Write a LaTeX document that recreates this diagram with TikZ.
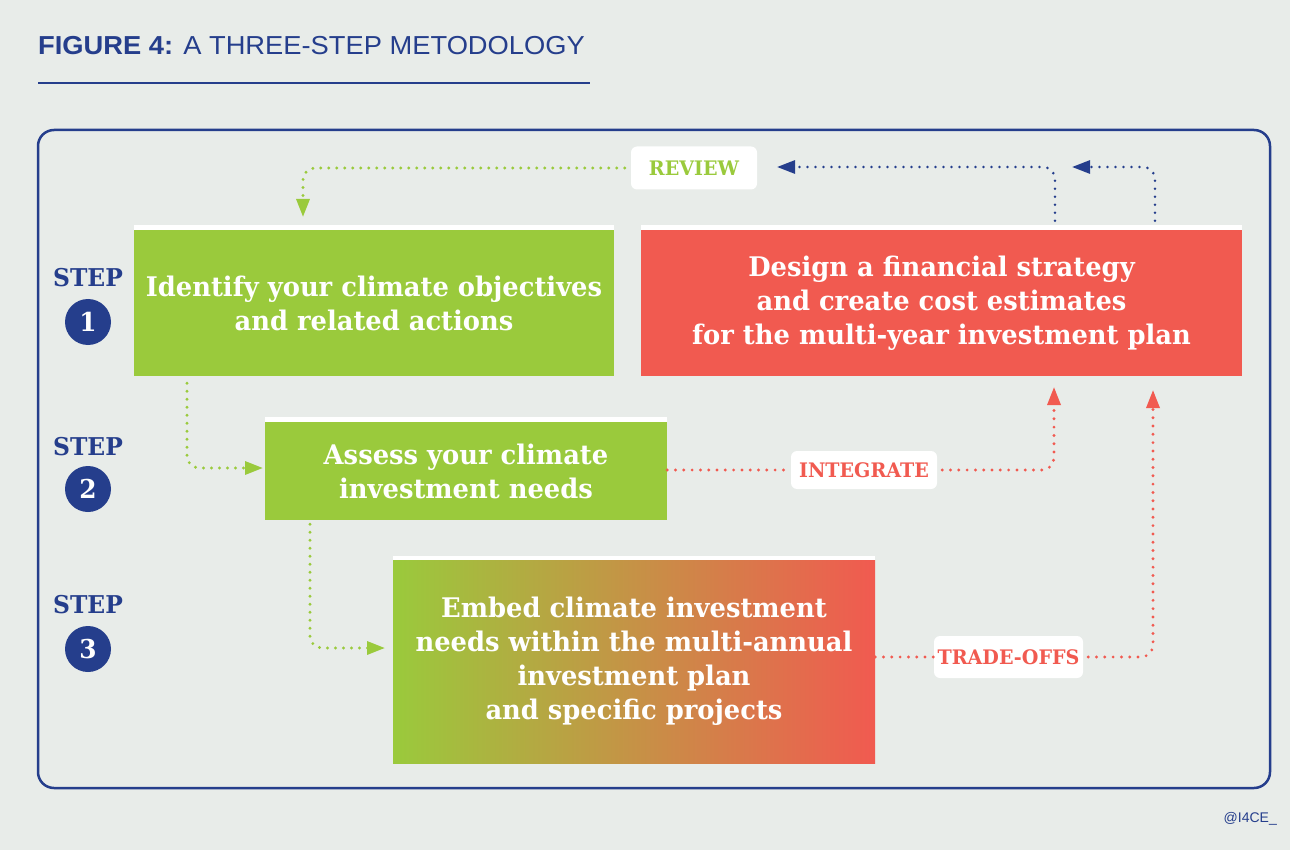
\documentclass[tikz,border=0pt]{standalone}
\usepackage{fontspec}
\setmainfont{Liberation Sans}
\newfontfamily\titlefont{Liberation Sans}[FakeStretch=1.05]
\newfontfamily\slab{DejaVu Serif}[FakeStretch=0.955]
\usetikzlibrary{arrows.meta}
\definecolor{bg}{HTML}{E8ECE9}
\definecolor{navy}{HTML}{253E8C}
\definecolor{lgreen}{HTML}{9ACA3C}
\definecolor{coral}{HTML}{F15A50}
\begin{document}
\begin{tikzpicture}[x=1pt,y=-1pt,
  box/.style={inner sep=0pt, text=white, align=center,
    font=\slab\bfseries\fontsize{27}{34}\selectfont},
  steplbl/.style={inner sep=0pt, text=navy, font=\slab\bfseries\fontsize{24.5}{30}\selectfont},
  stepnum/.style={circle, fill=navy, minimum size=46pt, inner sep=0pt, text=white,
    font=\slab\bfseries\fontsize{26}{30}\selectfont},
  lbl/.style={fill=white, rounded corners=6pt, inner sep=0pt,
    font=\slab\bfseries\fontsize{20}{24}\selectfont},
  gdot/.style={draw=lgreen, line width=3.2pt, line cap=round, dash pattern=on 0pt off 8pt, rounded corners=12pt},
  bdot/.style={draw=navy, line width=2.8pt, line cap=round, dash pattern=on 0pt off 8pt, rounded corners=12pt},
  rdot/.style={draw=coral, line width=3.2pt, line cap=round, dash pattern=on 0pt off 8.3pt, rounded corners=12pt},
  tip/.style={-{Triangle[length=18pt,width=13pt]}}
]
\fill[bg] (0,0) rectangle (1290,850);
\useasboundingbox (0,0) rectangle (1290,850);

% title
\node[anchor=base west, inner sep=0pt, text=navy, font=\titlefont\fontsize{26}{30}\selectfont] (title) at (38,55)
  {\textbf{FIGURE 4:} A THREE-STEP METODOLOGY};
\draw[navy, line width=1.3pt] (38,83) -- (590,83);

% frame
\draw[navy, line width=2.5pt, rounded corners=16pt] (38,130) rectangle (1270,788);

% boxes
\node[box, fill=lgreen, minimum width=480pt, minimum height=146pt] (b1) at (374,303)
  {Identify your climate objectives\\and related actions};
\node[box, fill=coral, minimum width=601pt, minimum height=146pt] (rb) at (941.5,303)
  {Design a financial strategy\\and create cost estimates\\for the multi-year investment plan};
\node[box, fill=lgreen, minimum width=402pt, minimum height=98pt] (b2) at (466,471)
  {Assess your climate\\investment needs};
\node[box, left color=lgreen, right color=coral, minimum width=482pt, minimum height=203pt] (b3) at (634,661.5)
  {Embed climate investment\\needs within the multi-annual\\investment plan\\and specific projects};

% white top stripes
\fill[white] (b1.north west) rectangle ([yshift=5pt]b1.north east);
\fill[white] (rb.north west) rectangle ([yshift=5pt]rb.north east);
\fill[white] (b2.north west) rectangle ([yshift=5pt]b2.north east);
\fill[white] (b3.north west) rectangle ([yshift=4pt]b3.north east);

% steps
\node[steplbl] (s1) at (88,278) {STEP};
\node[stepnum] (n1) at (88,322) {1};
\node[steplbl] (s2) at (88,447) {STEP};
\node[stepnum] (n2) at (88,489) {2};
\node[steplbl] (s3) at (88,605) {STEP};
\node[stepnum] (n3) at (88,649) {3};

% labels
\node[lbl, text=lgreen, minimum width=126pt, minimum height=43pt] (rev) at (694,168) {REVIEW};
\node[lbl, text=coral, minimum width=146pt, minimum height=38pt] (int) at (864,470) {INTEGRATE};
\node[lbl, text=coral, minimum width=149pt, minimum height=42pt] (tr) at (1008.5,657) {TRADE-OFFS};

% coordinates
\coordinate (revtip) at (303,217);
\coordinate (bx1) at (1055,0);
\coordinate (bx2) at (1155,0);
\coordinate (bt1) at (777,167);
\coordinate (bt2) at (1072,167);
\coordinate (it1) at (1054,387);
\coordinate (it2) at (1153,390);
\coordinate (gx1) at (187,0);
\coordinate (gx2) at (310,0);
\coordinate (g2tip) at (263,468);
\coordinate (g3tip) at (385,648);

% connectors
\draw[gdot, tip, shorten <=6pt] (rev.west) -| (revtip);
\draw[bdot, tip, shorten <=9pt] (rb.north -| bx1) |- (bt1);
\draw[bdot, tip, shorten <=9pt] (rb.north -| bx2) |- (bt2);
\draw[rdot] (int.west -| b2.east) -- (int.west);
\draw[rdot, tip, shorten <=5pt] (int.east) -| (it1);
\draw[rdot] (tr.west -| b3.east) -- (tr.west);
\draw[rdot, tip, shorten <=5pt] (tr.east) -| (it2);
\draw[gdot, tip, shorten <=7pt] (b1.south -| gx1) |- (g2tip);
\draw[gdot, tip, shorten <=4pt] (b2.south -| gx2) |- (g3tip);

% credit
\node[anchor=base east, inner sep=0pt, text=navy, font=\fontsize{14}{16}\selectfont] (cred) at (1277,822) {@I4CE\_};
\end{tikzpicture}
\end{document}
